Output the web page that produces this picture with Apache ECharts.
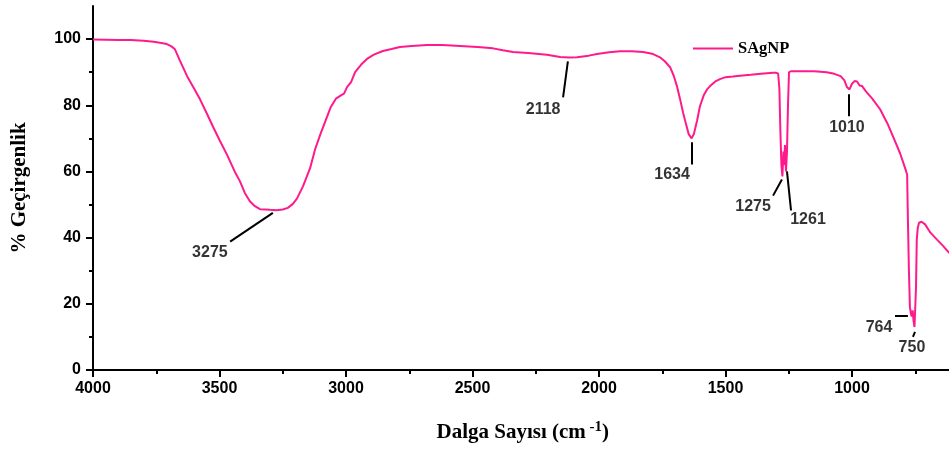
<!DOCTYPE html>
<html>
<head>
<meta charset="utf-8">
<script src="https://cdn.jsdelivr.net/npm/echarts@6/dist/echarts.min.js"></script>
<style>
html,body{margin:0;padding:0;background:#fff;}
#c{width:949px;height:450px;}
</style>
</head>
<body>
<div id="c"></div>
<script>
// ---- data ----
const seriesName = 'SAgNP';
const wavenumber = [4000,3950,3900,3850,3800,3760,3730,3708,3690,3676,3656,3628,3600,3577,3550,3526,3500,3470,3440,3419,3400,3380,3360,3340,3300,3275,3250,3230,3210,3194,3170,3142,3122,3100,3080,3060,3040,3020,3008,3000,2996,2990,2980,2964,2940,2917,2890,2854,2820,2787,2740,2680,2620,2549,2480,2419,2380,2340,2280,2206,2154,2118,2087,2040,2008,1960,1917,1870,1826,1790,1759,1740,1719,1705,1692,1680,1668,1655,1645,1634,1625,1612,1601,1585,1573,1561,1540,1522,1500,1470,1443,1400,1360,1312,1300,1292,1287,1283,1279,1275,1271,1268,1265,1261,1257,1253,1249,1240,1200,1150,1100,1070,1045,1030,1020,1010,1000,990,980,970,960,945,920,889,860,838,810,790,782,779,775,771,767,764,760,757,753,750,747,744,740,735,725,711,690,664,640,617,600];
const transmittance = [99.9,99.8,99.7,99.7,99.5,99.2,98.8,98.5,97.8,96.9,93.4,88.8,85.0,81.8,77.5,73.6,69.5,65.0,60.0,57.0,53.5,51.0,49.5,48.6,48.4,48.3,48.5,49.0,50.2,51.8,55.5,61.0,66.7,71.5,75.5,79.5,82.0,83.0,83.5,84.8,85.5,85.0,87.0,90.0,92.3,94.0,95.3,96.4,97.0,97.6,97.9,98.2,98.2,97.9,97.6,97.2,96.6,96.1,95.8,95.3,94.6,94.4,94.5,95.0,95.5,96.0,96.3,96.3,96.1,95.6,94.5,93.3,91.5,89.0,85.8,82.0,77.9,74.0,71.2,70.0,71.3,75.5,79.7,83.2,84.8,85.8,87.2,87.9,88.5,88.7,88.9,89.2,89.5,89.8,89.8,89.6,85.0,72.0,62.0,58.5,66.0,62.0,68.0,60.0,66.0,80.0,90.0,90.3,90.3,90.3,90.0,89.5,88.8,87.5,85.5,84.8,86.5,87.3,87.2,86.0,85.8,84.2,82.0,78.8,74.5,70.6,65.5,61.0,59.0,45.5,30.0,19.0,17.0,16.2,18.0,15.0,13.0,12.5,25.0,39.4,43.0,44.5,44.8,44.0,41.5,39.4,37.5,35.5,34.5];

// peak annotations: label text, label anchor (data units), leader line from/to (data units)
const peakText   = ['3275','2118','1634','1275','1261','1010','764','750'];
const peakLabelX = [3538, 2221, 1711, 1391, 1174, 1020, 893, 763];
const peakLabelY = [35.5, 78.8, 59.0, 49.4, 45.5, 73.3, 12.7, 6.7];
const leadFromX  = [3289, 2123, 1632, 1277, 1257, 1012, 830, 751];
const leadFromY  = [47.5, 93.3, 68.8, 57.6, 60.0, 83.3, 16.4, 11.5];
const leadToX    = [3458, 2142, 1632, 1312, 1241, 1012, 779, 759];
const leadToY    = [38.8, 82.4, 62.1, 52.7, 48.2, 76.7, 16.4, 10.0];

// axis ticks
const xMin = 500, xMax = 4000, xStep = 500;
const yMajorTicks = [0,20,40,60,80,100];
const yMinorTicks = [10,30,50,70,90];
const yMax = 110;

// ---- chart ----
const lineData = wavenumber.map((w,i)=>[w, transmittance[i]]);
const labelData = peakText.map((t,i)=>[peakLabelX[i], peakLabelY[i], t]);
const leaders = peakText.map((t,i)=>[{coord:[leadFromX[i], leadFromY[i]]},{coord:[leadToX[i], leadToY[i]]}]);

const tickFont = {fontFamily:'Liberation Sans', fontWeight:'bold', fontSize:16, color:'#000'};
const chart = echarts.init(document.getElementById('c'), null, {renderer:'canvas'});
chart.setOption({
  animation:false,
  backgroundColor:'#ffffff',
  grid:{left:93, right:-29.5, top:6, bottom:80, containLabel:false, outerBoundsMode:'none'},
  legend:{
    data:[{name:seriesName, icon:'rect'}], left:688, top:35, itemWidth:40, itemHeight:2, itemGap:5,
    textStyle:{fontFamily:'Liberation Serif', fontWeight:'bold', fontSize:16.5, color:'#000'}
  },
  xAxis:{
    type:'value', inverse:true, min:xMin, max:xMax, interval:xStep,
    name:'{a|Dalga Sayısı (cm}{s| -1}{a|)}', nameLocation:'middle', nameGap:50,
    nameTextStyle:{padding:[0,26,0,0], rich:{
      a:{fontFamily:'Liberation Serif', fontWeight:'bold', fontSize:21, color:'#000'},
      s:{fontFamily:'Liberation Serif', fontWeight:'bold', fontSize:15, color:'#000', padding:[0,0,10,0]}
    }},
    axisLine:{show:true, onZero:false, lineStyle:{color:'#000', width:2}},
    axisTick:{show:true, inside:false, length:7, lineStyle:{color:'#000', width:2}},
    minorTick:{show:true, splitNumber:2, length:4, lineStyle:{color:'#000', width:2}},
    axisLabel:Object.assign({margin:11, formatter:v=>String(v)}, tickFont),
    splitLine:{show:false}, minorSplitLine:{show:false}
  },
  yAxis:[{
    type:'value', min:0, max:yMax, interval:10, position:'left',
    name:'% Geçirgenlik', nameLocation:'middle', nameGap:63, nameRotate:90,
    nameTextStyle:{fontFamily:'Liberation Serif', fontWeight:'bold', fontSize:21, color:'#000'},
    axisLine:{show:true, onZero:false, lineStyle:{color:'#000', width:2}},
    axisTick:{show:true, inside:false, length:7, customValues:yMajorTicks, lineStyle:{color:'#000', width:2}},
    axisLabel:Object.assign({margin:12, customValues:yMajorTicks, formatter:v=>String(v)}, tickFont),
    splitLine:{show:false}
  },{
    type:'value', min:0, max:yMax, interval:10, position:'left',
    axisLine:{show:false},
    axisTick:{show:true, inside:false, length:4, customValues:yMinorTicks, lineStyle:{color:'#000', width:2}},
    axisLabel:{show:false},
    splitLine:{show:false}
  }],
  series:[{
    name:seriesName, type:'line', data:lineData, yAxisIndex:0,
    symbol:'none', showSymbol:false, clip:true,
    lineStyle:{color:'#ff1a8c', width:2}, itemStyle:{color:'#ff1a8c'}
  },{
    name:'peaks', type:'scatter', data:labelData, yAxisIndex:0,
    symbolSize:0, silent:true,
    label:{show:true, position:'inside', formatter:p=>p.data[2],
      fontFamily:'Liberation Sans', fontWeight:'bold', fontSize:16, color:'#000'},
    markLine:{
      silent:true, symbol:['none','none'], animation:false,
      lineStyle:{color:'#000', width:2, type:'solid'},
      label:{show:false},
      data:leaders
    }
  }]
});
</script>
</body>
</html>
